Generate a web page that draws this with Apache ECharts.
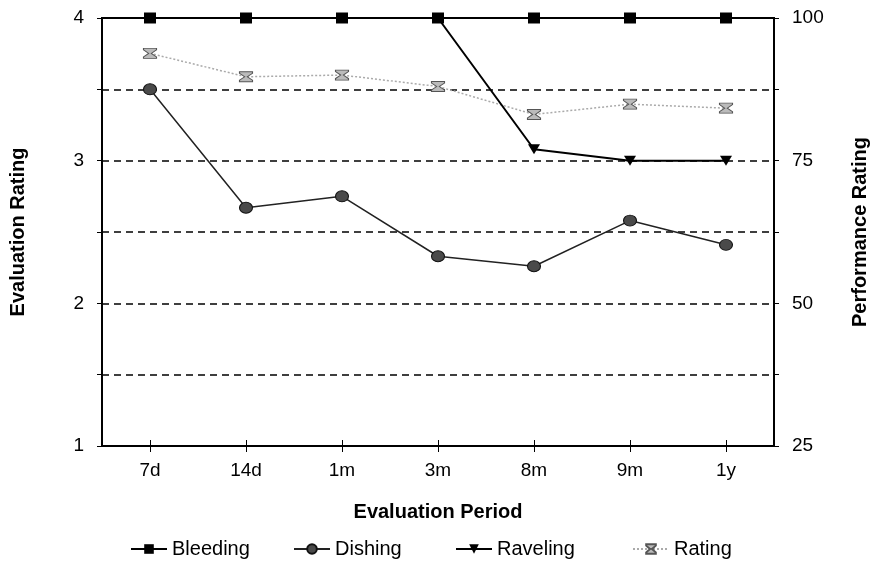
<!DOCTYPE html>
<html>
<head>
<meta charset="utf-8">
<script src="https://cdn.jsdelivr.net/npm/echarts@6/dist/echarts.min.js"></script>
<style>html,body{margin:0;padding:0;background:#fff}#c{width:878px;height:561px}</style>
</head>
<body>
<div id="c"></div>
<script>
var categories = ['7d', '14d', '1m', '3m', '8m', '9m', '1y'];
var bleeding = [4, 4, 4, 4, 4, 4, 4];
var dishing = [3.5, 2.67, 2.75, 2.33, 2.26, 2.58, 2.41];
var raveling = [4, 4, 4, 4, 3.08, 3, 3];
var rating = [93.8, 89.7, 90.0, 88.0, 83.1, 84.9, 84.2];
var leftTicks = [1, 2, 3, 4];
var rightTicks = [25, 50, 75, 100];

var FONT = '"Liberation Sans", Arial, sans-serif';
var chart = echarts.init(document.getElementById('c'), null, {renderer: 'canvas'});

var hourglass = 'path://M0,0 L10,0 L10,1.5 L6,5 L10,8.5 L10,10 L0,10 L0,8.5 L4,5 L0,1.5 Z';
var tri = 'path://M0,0 L10,0 L5,9 Z';

function legend(name, left) {
  return {
    data: [name], left: left, top: 537, itemWidth: 36, itemHeight: 12, itemGap: 10, padding: 0,
    textStyle: {fontFamily: FONT, fontSize: 20, color: '#000', lineHeight: 24}
  };
}

chart.setOption({
  animation: false,
  backgroundColor: '#fff',
  grid: {left: 101, right: 103, top: 18, bottom: 115, show: true, borderColor: '#000', borderWidth: 2, backgroundColor: 'transparent'},
  legend: [legend('Bleeding', 130), legend('Dishing', 293), legend('Raveling', 455), legend('Rating', 632)],
  xAxis: [{
    type: 'category', data: categories, boundaryGap: true,
    name: 'Evaluation Period', nameLocation: 'middle', nameGap: 56,
    nameTextStyle: {fontFamily: FONT, fontSize: 20, fontWeight: 'bold', color: '#000'},
    axisLine: {show: true, lineStyle: {color: '#000', width: 2}},
    axisTick: {show: true, alignWithLabel: true, length: 6, lineStyle: {color: '#000', width: 1}},
    axisLabel: {fontFamily: FONT, fontSize: 19, color: '#000', margin: 15},
    splitLine: {show: false}
  }, {
    type: 'category', data: categories, boundaryGap: true, position: 'bottom',
    axisLine: {show: false},
    axisTick: {show: true, inside: true, alignWithLabel: true, length: 6, lineStyle: {color: '#000', width: 1}},
    axisLabel: {show: false}, splitLine: {show: false}
  }],
  yAxis: [{
    type: 'value', min: 1, max: 4, interval: 0.5, position: 'left',
    name: 'Evaluation Rating', nameLocation: 'middle', nameGap: 74, nameRotate: 90,
    nameTextStyle: {fontFamily: FONT, fontSize: 20, fontWeight: 'bold', color: '#000'},
    axisLine: {show: true, lineStyle: {color: '#000', width: 2}},
    axisTick: {show: true, length: 5, lineStyle: {color: '#000', width: 1}},
    axisLabel: {fontFamily: FONT, fontSize: 19, color: '#000', margin: 18,
      formatter: function (v) { return leftTicks.indexOf(v) >= 0 ? String(v) : ''; }},
    splitLine: {show: true, lineStyle: {color: '#000', width: 1.5, type: [7, 5]}}
  }, {
    type: 'value', min: 25, max: 100, interval: 12.5, position: 'right',
    name: 'Performance Rating', nameLocation: 'middle', nameGap: 76, nameRotate: 90,
    nameTextStyle: {fontFamily: FONT, fontSize: 20, fontWeight: 'bold', color: '#000'},
    axisLine: {show: true, lineStyle: {color: '#000', width: 2}},
    axisTick: {show: true, length: 5, lineStyle: {color: '#000', width: 1}},
    axisLabel: {fontFamily: FONT, fontSize: 19, color: '#000', margin: 18,
      formatter: function (v) { return rightTicks.indexOf(v) >= 0 ? String(v) : ''; }},
    splitLine: {show: false}
  }],
  series: [{
    name: 'Rating', type: 'line', yAxisIndex: 1, data: rating, z: 2,
    symbol: hourglass, symbolSize: [13, 10],
    itemStyle: {color: '#bbb', borderColor: '#555', borderWidth: 1},
    lineStyle: {color: '#aaa', width: 1.5, type: [2, 2]}
  }, {
    name: 'Dishing', type: 'line', data: dishing, z: 3,
    symbol: 'circle', symbolSize: [13, 11],
    itemStyle: {color: '#4a4a4a', borderColor: '#111', borderWidth: 1},
    lineStyle: {color: '#222', width: 1.5}
  }, {
    name: 'Raveling', type: 'line', data: raveling, z: 4,
    symbol: tri, symbolSize: [12, 10],
    itemStyle: {color: '#000'},
    lineStyle: {color: '#000', width: 2}
  }, {
    name: 'Bleeding', type: 'line', data: bleeding, z: 5,
    symbol: 'rect', symbolSize: [12, 11],
    itemStyle: {color: '#000'},
    lineStyle: {color: '#000', width: 2}
  }]
});
</script>
</body>
</html>
